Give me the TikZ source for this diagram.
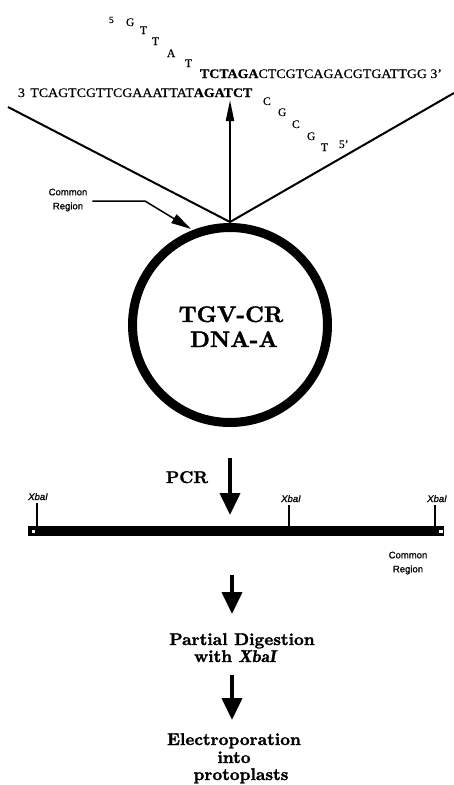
\documentclass[tikz,border=0pt]{standalone}
\usepackage{fontspec}
\newfontfamily\seqf[FakeBold=0.4]{Liberation Serif}
\newfontfamily\sanf[FakeBold=0.8]{Liberation Sans}
\newfontfamily\heavy[FakeBold=1.6, ItalicFont=lmromandemi10-oblique.otf, ItalicFeatures={FakeBold=1.6}]{lmroman10-bold.otf}
\usetikzlibrary{arrows.meta}
\begin{document}
\begin{tikzpicture}[x=1pt,y=-1pt, inner sep=0pt, outer sep=0pt,
  seq/.style={font=\seqf\fontsize{13}{13}\selectfont, anchor=base west},
  lett/.style={font=\seqf\fontsize{11.5}{12}\selectfont, anchor=base west},
  lbl/.style={font=\heavy\fontsize{17}{17}\selectfont, anchor=base},
  big/.style={font=\heavy\fontsize{22.5}{22}\selectfont, anchor=base},
  sml/.style={font=\sanf\fontsize{9.5}{14}\selectfont, align=center},
  xba/.style={font=\sanf\itshape\fontsize{9.5}{10}\selectfont, anchor=base},
  bigarrow/.style={line width=4pt, -{Triangle[width=20pt,length=22pt]}},
  thin/.style={line width=1.6pt},
  ]
\useasboundingbox (0,0) rectangle (454,785);

% plasmid
\node[circle, draw, line width=9pt, minimum size=195pt] (plasmid) at (230,325) {};
\node[big] (tgv) at (231,322) {TGV-CR};
\node[big] (dna) at (234,347) {DNA-A};

% V lines and up arrow
\coordinate (v) at (230,222);
\coordinate (lend) at (8,107);
\coordinate (rend) at (454,93);
\coordinate (uptip) at (230,100);
\draw[line width=2pt] (lend) -- (v) -- (rend);
\draw[line width=2pt, -{Triangle[width=8pt,length=21pt]}] (v) -- (uptip);

% sequences
\node[seq] (topseq) at (200,78) {\scalebox{1.07}[1]{{\bfseries TCTAGA}CTCGTCAGACGTGATTGG 3’}};
\node[seq] (botseq) at (18,97) {\scalebox{1.07}[1]{3\hspace{5pt}TCAGTCGTTCGAAATTAT{\bfseries AGATCT}}};
\node[lett, font=\seqf\fontsize{9.5}{10}\selectfont] (t0) at (109,23) {5};
\node[lett] (t1) at (126,26) {G};
\node[lett] (t2) at (140,34) {T};
\node[lett] (t3) at (152,45) {T};
\node[lett] (t4) at (167,57) {A};
\node[lett] (t5) at (185,67) {T};
\node[lett] (b1) at (263,105) {C};
\node[lett] (b2) at (278,116) {G};
\node[lett] (b3) at (292,128) {C};
\node[lett] (b4) at (307,140) {G};
\node[lett] (b5) at (321,151) {T};
\node[lett] (b6) at (339,148) {5’};

% Common region label (top)
\node[sml] (cr1) at (68,200) {Common\\Region};
\coordinate (c2) at (145,201);
\coordinate (c3) at (191,229);
\draw[line width=1.5pt, -{Triangle[width=10pt,length=20pt]}] ([xshift=5pt]cr1.east |- c2) -- (c2) -- (c3);

% PCR
\node[lbl] (pcr) at (187,483) {PCR};
\coordinate (a1s) at (230,458);
\coordinate (a1e) at (230,515);
\draw[bigarrow] (a1s) -- (a1e);

% bar
\fill (28,526) rectangle (444,536);
\filldraw[fill=white, draw=black, line width=0.6pt] (31,529) rectangle (35.5,533.5);
\filldraw[fill=white, draw=black, line width=0.6pt] (438.5,529) rectangle (443,533.5);
\node[xba] (x1) at (38,500) {XbaI};
\node[xba] (x2) at (291,502) {XbaI};
\node[xba] (x3) at (437,502) {XbaI};
\draw[thin] (37,503) -- (37,527);
\draw[thin] (289,505) -- (289,527);
\draw[thin] (435,505) -- (435,527);
\node[sml] (cr2) at (408,563) {Common\\Region};

% step 2
\coordinate (a2s) at (232,575);
\coordinate (a2e) at (232,614);
\draw[bigarrow] (a2s) -- (a2e);
\node[lbl] (pd) at (242,645) {Partial Digestion};
\node[lbl] (wx) at (235,662) {with {\itshape XbaI}};

% step 3
\coordinate (a3s) at (232,675);
\coordinate (a3e) at (232,720);
\draw[bigarrow] (a3s) -- (a3e);
\node[lbl] (el) at (234,745) {Electroporation};
\node[lbl] (in) at (234,763) {into};
\node[lbl] (pp) at (241,780) {protoplasts};
\end{tikzpicture}
\end{document}
